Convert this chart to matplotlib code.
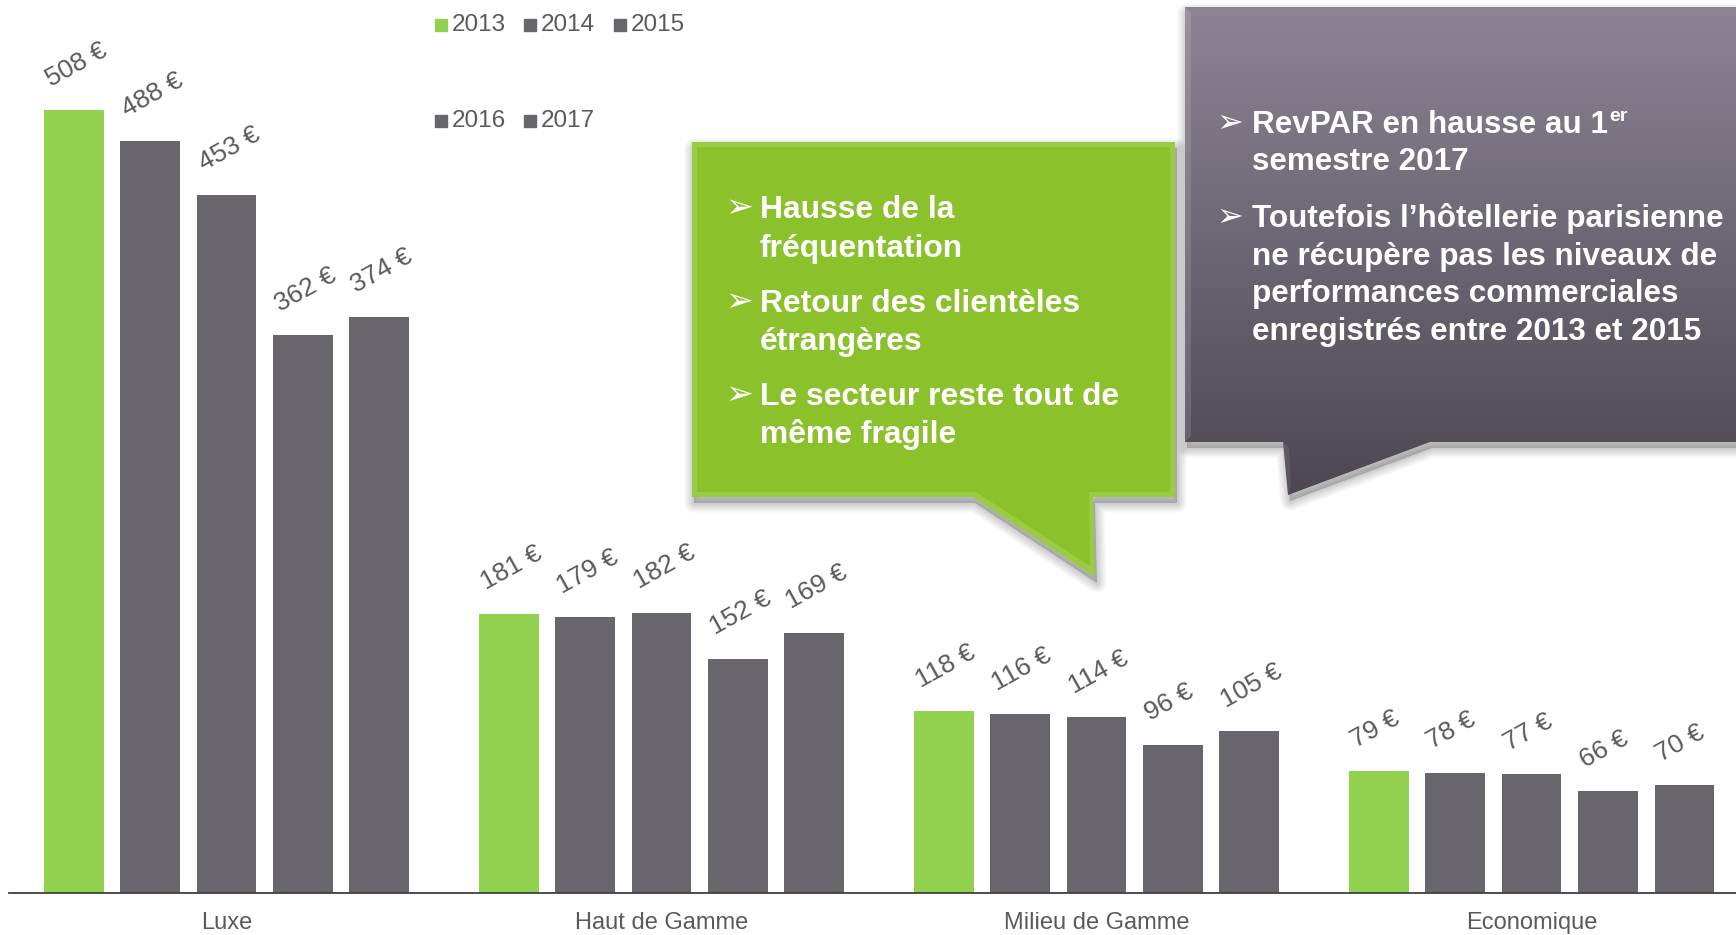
import matplotlib
matplotlib.use("Agg")
import matplotlib.pyplot as plt
import numpy as np
from matplotlib.patches import Polygon, Rectangle

plt.rcParams['font.family'] = ['Liberation Sans', 'DejaVu Sans']

# ---------------- data ----------------
categories = ["Luxe", "Haut de Gamme", "Milieu de Gamme", "Economique"]
years = ["2013", "2014", "2015", "2016", "2017"]
v2013 = [508, 181, 118, 79]
v2014 = [488, 179, 116, 78]
v2015 = [453, 182, 114, 77]
v2016 = [362, 152, 96, 66]
v2017 = [374, 169, 105, 70]
series = [v2013, v2014, v2015, v2016, v2017]

green_lines = [["Hausse de la", "fréquentation"],
               ["Retour des clientèles", "étrangères"],
               ["Le secteur reste tout de", "même fragile"]]
grey_lines = [["RevPAR en hausse au 1", "semestre 2017"],
              ["Toutefois l’hôtellerie parisienne", "ne récupère pas les niveaux de",
               "performances commerciales", "enregistrés entre 2013 et 2015"]]

GREEN = "#92D050"
GREY = "#69656C"
TXT = "#5A5A5A"
colors = [GREEN, GREY, GREY, GREY, GREY]

W, H = 1736, 935
fig = plt.figure(figsize=(W / 100, H / 100), dpi=100)
ax = fig.add_axes([9 / W, 42 / H, (W - 9) / W, 893 / H])

pitch = 0.1757
bw = 0.1375
x = np.arange(len(categories))
for i, (vals, c) in enumerate(zip(series, colors)):
    xs = x + (i - 2) * pitch
    ax.bar(xs, vals, width=bw, color=c, zorder=2)
    for xi, v in zip(xs, vals):
        ax.annotate(f"{v} €", xy=(xi - bw / 2, v), xytext=(5, 17),
                    textcoords="offset points", rotation=29,
                    rotation_mode="anchor", ha="left", va="baseline",
                    fontsize=19, color=TXT)

ax.set_xlim(-0.5, 3.47)
ax.set_ylim(0, 579.5)
ax.set_xticks(x)
ax.set_xticklabels(categories, fontsize=17, color=TXT)
ax.tick_params(axis="x", length=0, pad=14)
ax.set_yticks([])
for s in ["left", "right", "top"]:
    ax.spines[s].set_visible(False)
ax.spines["bottom"].set_color("#404040")
ax.spines["bottom"].set_linewidth(1.3)
ax.patch.set_alpha(0)

# ---------------- overlay in pixel coordinates ----------------
ov = fig.add_axes([0, 0, 1, 1], zorder=5)
ov.set_xlim(0, W)
ov.set_ylim(H, 0)
ov.axis("off")
ov.patch.set_alpha(0)

# legend
leg_pos = [(435, 25), (524, 25), (614, 25), (435, 121), (524, 121)]
for (lx, ly), yr, c in zip(leg_pos, years, colors):
    ov.add_patch(Rectangle((lx, ly - 6), 12, 12, color=c))
    ov.text(lx + 17, ly, yr, fontsize=17.5, color=TXT, va="center", ha="left")


def shadow(pts, dx=2, dy=6):
    for k in range(8):
        off = np.array(pts, float) + np.array([dx, dy])
        ov.add_patch(Polygon(off, closed=True, fc="black", alpha=0.025,
                             lw=14 - k * 1.7, ec="black", joinstyle="round"))


# green callout
gpts = [(692, 142), (1175, 142), (1175, 497), (1093, 497), (1095, 577),
        (973, 497), (692, 497)]
shadow(gpts)
ov.add_patch(Polygon(gpts, closed=True, fc="#9ACB43", ec="none", lw=0))
gin = [(697, 147), (1170, 147), (1170, 492), (1089, 492), (1090, 566),
       (976, 492), (697, 492)]
ov.add_patch(Polygon(gin, closed=True, fc="#8BC12B", ec="none"))

gbase = [[218, 257], [312, 350], [405, 443]]
for lines, bl in zip(green_lines, gbase):
    ov.text(725, bl[0] - 1, "➢", fontsize=24, color="white", va="baseline",
            ha="left", family=["DejaVu Sans"])
    for t, b in zip(lines, bl):
        ov.text(760, b, t, fontsize=22.9, color="white", fontweight="bold",
                va="baseline", ha="left")

# grey callout
rpts = [(1185, 7), (1745, 7), (1745, 442), (1430, 442), (1288, 495),
        (1283, 442), (1185, 442)]
shadow(rpts)
poly = Polygon(rpts, closed=True, fc="none", ec="none")
ov.add_patch(poly)
grad = np.linspace(0, 1, 256)[:, None]
top = np.array([0x8C, 0x84, 0x94]) / 255
bot = np.array([0x4C, 0x47, 0x53]) / 255
img = top[None, None, :] * (1 - grad[:, :, None]) + bot[None, None, :] * grad[:, :, None]
img = np.repeat(img, 2, axis=1)
im = ov.imshow(img, extent=(1185, 1745, 495, 7), aspect="auto", zorder=3)
im.set_clip_path(poly)
ov.set_xlim(0, W)
ov.set_ylim(H, 0)
ov.add_patch(Polygon([(1185, 7), (1191, 13), (1191, 436), (1185, 442)],
                     closed=True, fc="white", alpha=0.12, ec="none", zorder=4))
ov.add_patch(Polygon([(1283, 442), (1289, 448), (1291, 487), (1288, 495)],
                     closed=True, fc="white", alpha=0.08, ec="none", zorder=4))

rbase = [[133, 170], [227, 265, 302, 340]]
for lines, bl in zip(grey_lines, rbase):
    ov.text(1216, bl[0] - 1, "➢", fontsize=23, color="white", va="baseline",
            ha="left", family=["DejaVu Sans"], zorder=6)
    for t, b in zip(lines, bl):
        ov.text(1252, b, t, fontsize=22.6, color="white", fontweight="bold",
                va="baseline", ha="left", zorder=6)

# superscript "er"
fig.canvas.draw()
r = fig.canvas.get_renderer()
first = [t for t in ov.texts if t.get_text() == grey_lines[0][0]][0]
bb = first.get_window_extent(r)
ov.text(bb.x1 + 1, 133 - 12, "er", fontsize=14, color="white",
        fontweight="bold", va="baseline", ha="left", zorder=6)

fig.savefig("out.png", dpi=100)
